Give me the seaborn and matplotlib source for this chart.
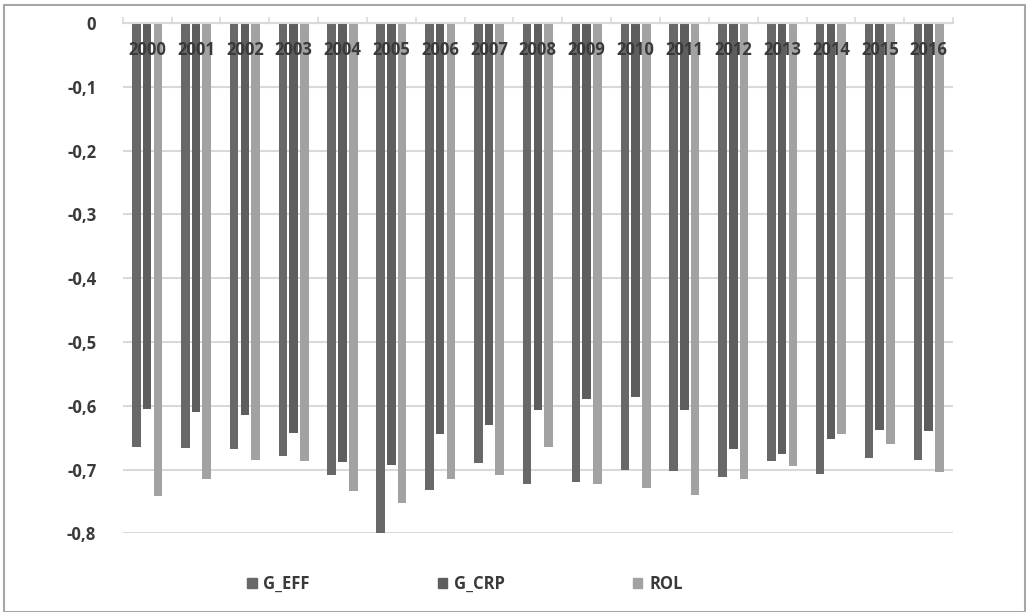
import pandas as pd
import matplotlib.pyplot as plt
import matplotlib.patches as mpatches
from matplotlib.ticker import FuncFormatter, FixedLocator
import seaborn as sns

years = [str(y) for y in range(2000, 2017)]
g_eff = [-0.665, -0.666, -0.667, -0.679, -0.709, -0.800, -0.732, -0.689, -0.723,
         -0.720, -0.700, -0.702, -0.711, -0.686, -0.706, -0.682, -0.685]
g_crp = [-0.605, -0.610, -0.614, -0.643, -0.688, -0.692, -0.644, -0.630, -0.607,
         -0.589, -0.586, -0.606, -0.668, -0.676, -0.652, -0.638, -0.639]
rol = [-0.742, -0.714, -0.685, -0.686, -0.734, -0.752, -0.715, -0.709, -0.665,
       -0.722, -0.729, -0.739, -0.714, -0.695, -0.644, -0.659, -0.704]
series_names = ['G_EFF', 'G_CRP', 'ROL']
colors = ['#686868', '#5e5e5e', '#a2a2a2']

rows = []
for name, vals in zip(series_names, [g_eff, g_crp, rol]):
    for yr, v in zip(years, vals):
        rows.append({'Year': yr, 'Series': name, 'Value': v})
df = pd.DataFrame(rows)

sns.set_style("white")
plt.rcParams['font.family'] = ['Open Sans', 'DejaVu Sans']
plt.rcParams['font.weight'] = 'bold'

text_col = '#3a3a3a'
grid_col = '#d9d9d9'

fig = plt.figure(figsize=(10.26, 6.12), dpi=100)
ax = fig.add_axes([0.1196, 0.1283, 0.8093, 0.8341])

sns.barplot(data=df, x='Year', y='Value', hue='Series', hue_order=series_names,
            palette=colors, width=0.66, gap=0.2, ax=ax, errorbar=None,
            saturation=1, edgecolor='none', zorder=2)

ax.set_ylim(-0.8, 0)
ax.set_xlim(-0.5, len(years) - 0.5)
ax.set_yticks([-0.8, -0.7, -0.6, -0.5, -0.4, -0.3, -0.2, -0.1, 0])
ax.yaxis.set_major_formatter(FuncFormatter(
    lambda v, p: '0' if abs(v) < 1e-9 else f'{v:.1f}'.replace('.', ',')))
ax.tick_params(axis='y', length=0, pad=19, labelsize=12, labelcolor=text_col)
ax.grid(axis='y', color=grid_col, linewidth=1.5, zorder=0)
ax.set_axisbelow(True)

# category axis sits at the top (value 0)
ax.xaxis.set_ticks_position('top')
ax.set_xticks([])
ax.xaxis.set_minor_locator(FixedLocator([i - 0.5 for i in range(len(years) + 1)]))
ax.tick_params(axis='x', which='minor', length=4, width=1.2, color=grid_col, direction='out')
for s in ['left', 'right', 'bottom']:
    ax.spines[s].set_visible(False)
ax.spines['top'].set_color(grid_col)
ax.spines['top'].set_linewidth(1.5)
ax.set_xlabel('')
ax.set_ylabel('')

for i, yr in enumerate(years):
    ax.text(i, -0.042, yr, ha='center', va='center', fontsize=12,
            fontweight='bold', color=text_col, zorder=5)

ax.get_legend().remove()
handles = [mpatches.Patch(color=c, label=n) for c, n in zip(colors, series_names)]
fig.legend(handles=handles, loc='center', bbox_to_anchor=(465 / 1026, 1 - 584 / 612),
           ncol=3, frameon=False, fontsize=12, columnspacing=7.7,
           handlelength=0.55, handleheight=0.55, handletextpad=0.4,
           labelcolor=text_col)

fig.patches.append(mpatches.Rectangle((4 / 1026, 0.5 / 612), 1021 / 1026, 606.5 / 612,
                                      transform=fig.transFigure, fill=False,
                                      edgecolor='#a6a6a6', linewidth=1.5))

fig.savefig('out.png', dpi=100)
